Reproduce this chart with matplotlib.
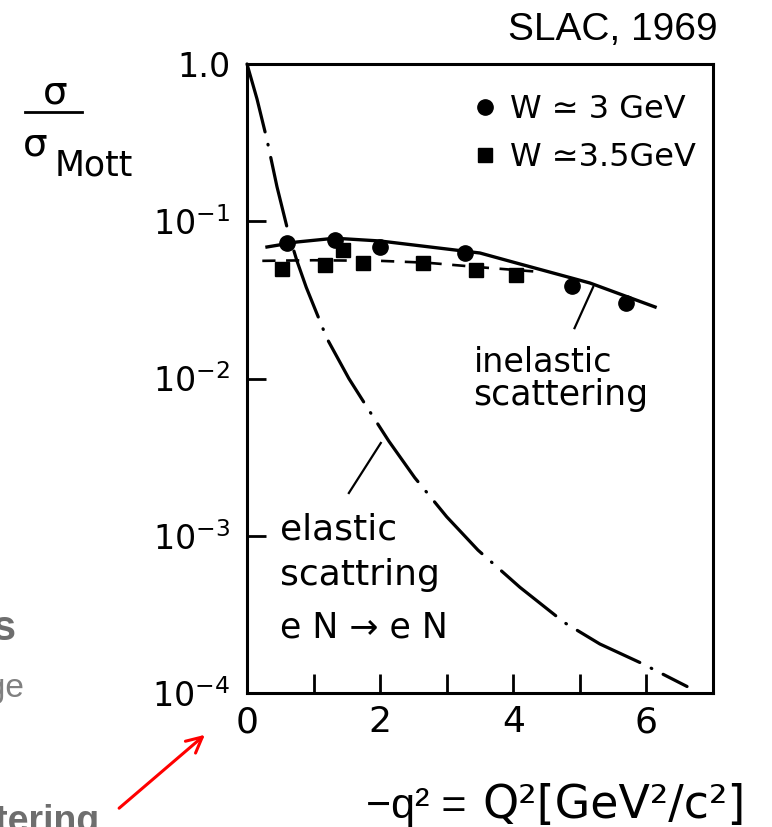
# Recreation of the SLAC 1969 plot: sigma / sigma_Mott versus Q^2,
# elastic (dash-dot) and inelastic (data + fits) electron-nucleon scattering.

import matplotlib
matplotlib.use('Agg')
import matplotlib.pyplot as plt
from matplotlib.ticker import NullLocator

# ----- data -----
# W = 3 GeV (circles)
q2_w3 = [0.60, 1.32, 2.00, 3.27, 4.88, 5.69]
ratio_w3 = [0.073, 0.076, 0.069, 0.063, 0.039, 0.030]

# W = 3.5 GeV (squares)
q2_w35 = [0.53, 1.17, 1.44, 1.74, 2.64, 3.44, 4.04]
ratio_w35 = [0.050, 0.053, 0.066, 0.054, 0.054, 0.049, 0.0455]

# solid fit through the W = 3 GeV points
q2_fit3 = [0.30, 0.75, 1.32, 2.00, 2.75, 3.50, 4.05, 5.15, 6.13]
ratio_fit3 = [0.0686, 0.0738, 0.078, 0.0749, 0.0686, 0.0628, 0.0542, 0.0405, 0.0285]

# dashed fit through the W = 3.5 GeV points
q2_fit35 = [0.23, 1.0, 2.0, 2.7, 3.5, 4.3]
ratio_fit35 = [0.056, 0.0565, 0.056, 0.0545, 0.051, 0.048]

# elastic scattering curve (dash-dot)
q2_el = [0.0, 0.15, 0.30, 0.45, 0.62, 0.75, 0.89, 1.2, 1.53, 1.83, 2.13,
         2.52, 3.0, 3.47, 4.1, 4.77, 5.3, 5.92, 6.61]
ratio_el = [1.0, 0.60, 0.33, 0.166, 0.085, 0.056, 0.038, 0.018, 0.010, 0.0063, 0.0040,
            0.00234, 0.00132, 8.1e-4, 4.7e-4, 2.8e-4, 2.05e-4, 1.55e-4, 1.1e-4]

# leader lines from the labels to the curves
lead_inel_q2 = [4.92, 5.20]
lead_inel_r = [0.0209, 0.0382]
lead_el_q2 = [1.53, 2.01]
lead_el_r = [0.00187, 0.00389]

yticks = [1e-4, 1e-3, 1e-2, 1e-1, 1.0]
ytick_labels = ['$10^{-4}$', '$10^{-3}$', '$10^{-2}$', '$10^{-1}$', '1.0']
xticks = [0, 1, 2, 3, 4, 5, 6]
xtick_labels = ['0', '', '2', '', '4', '', '6']

SCAN = 'DejaVu Sans'
SLIDE = 'Liberation Sans'

W, H = 772, 827
fig = plt.figure(figsize=(W / 100, H / 100), dpi=100)
ax = fig.add_axes([247 / W, 1 - 693 / H, (713 - 247) / W, (693 - 64) / H])

ax.set_yscale('log')
ax.set_xlim(0, 7)
ax.set_ylim(1e-4, 1.0)

ax.plot(q2_el, ratio_el, color='black', lw=2.3,
        linestyle=(0, (22, 4, 0.2, 4)), dash_capstyle='round', clip_on=False)
ax.plot(q2_fit3, ratio_fit3, color='black', lw=2.4)
ax.plot(q2_fit35, ratio_fit35, color='black', lw=1.9, linestyle=(0, (5, 4)))
h3, = ax.plot(q2_w3, ratio_w3, 'o', color='black', ms=11)
h35, = ax.plot(q2_w35, ratio_w35, 's', color='black', ms=10)
ax.plot(lead_inel_q2, lead_inel_r, color='black', lw=1.6)
ax.plot(lead_el_q2, lead_el_r, color='black', lw=1.6)

ax.legend([h3, h35], ['W ≃ 3 GeV', 'W ≃3.5GeV'], loc='upper right',
          bbox_to_anchor=(0.978, 0.962), frameon=False, handlelength=0.6,
          handletextpad=0.5, labelspacing=0.52, borderaxespad=0.2, borderpad=0,
          prop={'family': SCAN, 'size': 23})

# labels inside the plot
ax.text(3.41, 0.011, 'inelastic', family=SCAN, fontsize=24, va='baseline')
ax.text(3.39, 0.0068, 'scattering', family=SCAN, fontsize=25, va='baseline')
ax.text(0.50, 9.4e-4, 'elastic', family=SCAN, fontsize=26, va='baseline')
ax.text(0.50, 4.86e-4, 'scattring', family=SCAN, fontsize=26, va='baseline')
ax.text(0.50, 2.24e-4, 'e N → e N', family=SCAN, fontsize=25, va='baseline')

# axes styling
for s in ax.spines.values():
    s.set_linewidth(2.2)
ax.set_xticks(xticks)
ax.set_xticklabels(xtick_labels, family=SCAN, fontsize=26)
ax.set_yticks(yticks)
ax.set_yticklabels(ytick_labels, family=SCAN, fontsize=24)
ax.yaxis.set_minor_locator(NullLocator())
ax.tick_params(axis='x', direction='in', length=14, width=2, pad=9)
ax.tick_params(axis='y', direction='in', length=14, width=2, pad=12)

# y label: sigma / sigma_Mott
fig.text(55 / W, 1 - 104 / H, 'σ', family=SCAN, fontsize=28, ha='center', va='baseline')
fig.add_artist(plt.Line2D([25 / W, 82 / W], [1 - 112 / H, 1 - 112 / H], color='black', lw=2))
fig.text(35 / W, 1 - 156 / H, 'σ', family=SCAN, fontsize=28, ha='center', va='baseline')
fig.text(55 / W, 1 - 176 / H, 'Mott', family=SCAN, fontsize=25, ha='left', va='baseline')

# x label
fig.text(478 / W, 1 - 818 / H, '−q² = ', family=SLIDE, fontsize=31, ha='right', va='baseline')
fig.text(746 / W, 1 - 818 / H, 'Q²[GeV²/c²]', family=SCAN, fontsize=33, ha='right', va='baseline')

fig.text(718 / W, 1 - 40 / H, 'SLAC, 1969', family=SLIDE, fontsize=28, ha='right', va='baseline')

# fragments of the surrounding slide
fig.text(16 / W, 1 - 640 / H, 'Partons', family=SLIDE, fontsize=30, weight='bold',
         color='#6e6e6e', ha='right', va='baseline')
fig.text(25 / W, 1 - 697 / H, 'charge', family=SLIDE, fontsize=24,
         color='#808080', ha='right', va='baseline')
fig.text(100 / W, 1 - 832 / H, 'scattering', family=SLIDE, fontsize=27, weight='bold',
         color='#6e6e6e', ha='right', va='baseline')
ax.annotate('', xy=(207, H - 733), xytext=(117, H - 810),
            xycoords='figure pixels', textcoords='figure pixels',
            arrowprops=dict(arrowstyle='->', color='red', lw=2.2, mutation_scale=28))

fig.savefig('out.png', dpi=100)
